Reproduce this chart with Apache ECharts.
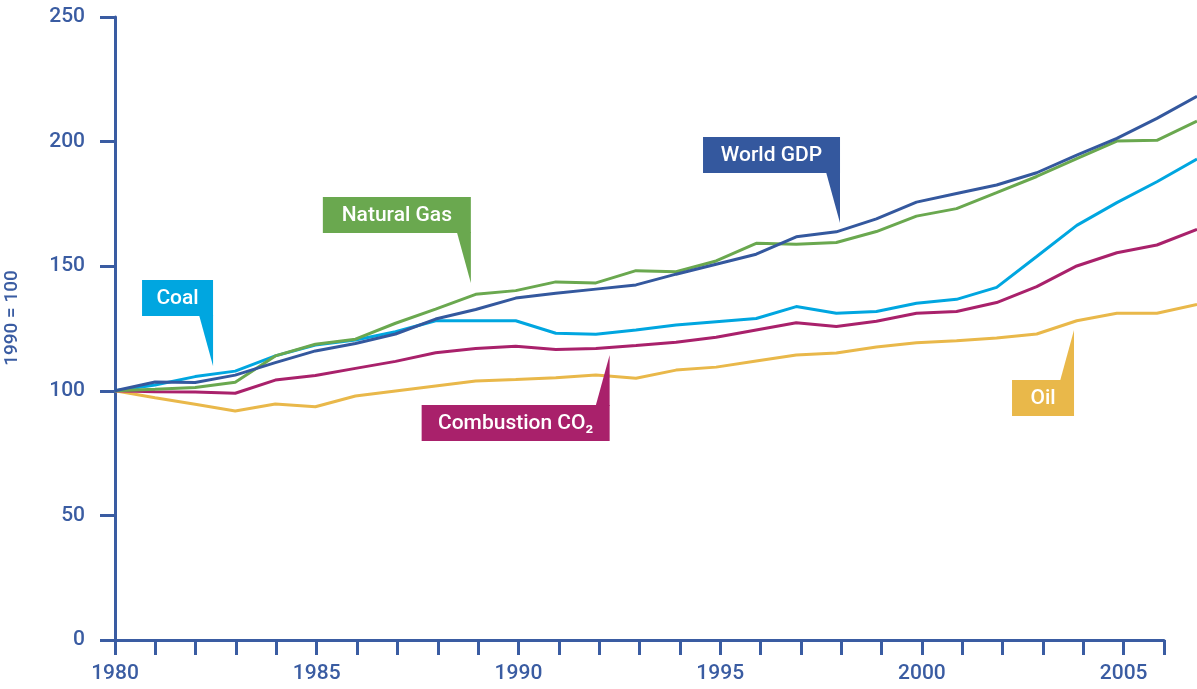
<!DOCTYPE html>
<html><head><meta charset="utf-8">
<script src="https://cdn.jsdelivr.net/npm/echarts@6/dist/echarts.min.js"></script>
<style>html,body{margin:0;padding:0;background:#fff}#c{width:1197px;height:689px}</style>
</head><body><div id="c"></div>
<script>
// ---- data ----
const years = [1980,1981,1982,1983,1984,1985,1986,1987,1988,1989,1990,1991,1992,1993,1994,1995,1996,1997,1998,1999,2000,2001,2002,2003,2004,2005,2006,2007];
const worldGDP   = [100,103.5,103.3,106.3,111.3,116,119,122.8,128.8,132.6,137.2,139.1,140.8,142.5,146.8,150.8,154.8,161.8,163.8,169,175.7,179.2,182.6,187.5,194.6,201.3,209.3,218.2];
const naturalGas = [100,100.6,101.3,103.4,114,118.7,120.7,127.1,132.8,138.7,140.2,143.7,143.3,148.2,147.8,152.1,159.2,158.8,159.5,163.9,170.1,173.1,179.5,186,193.2,200.2,200.5,208.2];
const coal       = [100,102.3,105.7,107.9,114,118.4,120.4,123.7,128.1,128.1,128.1,123.1,122.7,124.4,126.4,127.7,129,133.8,131.1,131.8,135.1,136.7,141.5,153.9,166.4,175.5,183.9,193];
const co2        = [100,99.6,99.5,99,104.3,106.1,109,111.8,115.3,117,117.9,116.6,117,118.2,119.5,121.5,124.4,127.3,125.8,127.9,131.1,131.8,135.4,141.8,150.1,155.4,158.5,164.8];
const oil        = [100,97.2,94.6,91.9,94.7,93.6,97.9,99.9,101.9,103.9,104.5,105.2,106.3,105,108.3,109.5,112,114.4,115.2,117.6,119.3,120.1,121.2,122.8,128.1,131.1,131.1,134.6];
const yTicks = [0,50,100,150,200,250];
const xLabelYears = [1980,1985,1990,1995,2000,2005];
const yAxisTitle = '1990 = 100';

// ---- annotations (callouts point at a data coordinate) ----
const calloutText  = ['Coal','Natural Gas','World GDP','Combustion CO₂','Oil'];
const calloutTip   = [[1982.43,110],[1988.82,143.3],[1997.97,167.3],[1992.26,114.4],[2003.77,124.4]];
const calloutWidth = [71,148,137,188,62];
const calloutDir   = ['down','down','down','up','up'];

const C = {gdp:'#34589e', gas:'#6aa84f', coal:'#00a6e0', co2:'#a9216b', oil:'#e9b84a', axis:'#3a5ca2'};
const calloutColor = [C.coal, C.gas, C.gdp, C.co2, C.oil];
const FONT = 'Roboto, "Open Sans", sans-serif';

// layout: visible axis spans 1980..2006, data continue to 2007 past the frame edge
const W = 1197, LEFT = 115, RIGHT = 33, TOP = 17, BOTTOM = 49;
const axisMax = 2006, dataMax = years[years.length-1], xMin = years[0];
const pxPerYear = (W - LEFT - RIGHT) / (axisMax - xMin);
const dataRight = W - LEFT - pxPerYear * (dataMax - xMin);

const pairs = arr => years.map((y,i)=>[y,arr[i]]);
const mk = (name, arr, color) => ({
  name, type:'line', xAxisIndex:1, yAxisIndex:1, data:pairs(arr), symbol:'none', clip:false, silent:true,
  lineStyle:{color, width:3}, itemStyle:{color}
});

const chart = echarts.init(document.getElementById('c'), null, {renderer:'canvas'});
chart.setOption({
  animation:false,
  backgroundColor:'#fff',
  grid:[
    {left:LEFT, right:RIGHT, top:TOP, bottom:BOTTOM},
    {left:LEFT, right:dataRight, top:TOP, bottom:BOTTOM}
  ],
  xAxis:[{
    gridIndex:0, type:'value', min:xMin, max:axisMax, interval:1,
    axisLine:{show:true, lineStyle:{color:C.axis, width:3}},
    axisTick:{show:true, inside:false, length:15, lineStyle:{color:C.axis, width:3}},
    axisLabel:{show:true, margin:23, color:C.axis, fontFamily:FONT, fontWeight:500, fontSize:21,
      formatter:v => xLabelYears.includes(v) ? String(v) : ''},
    splitLine:{show:false}
  },{
    gridIndex:1, type:'value', min:xMin, max:dataMax, show:false
  }],
  yAxis:[{
    gridIndex:0, type:'value', min:yTicks[0], max:yTicks[yTicks.length-1], interval:50,
    axisLine:{show:true, lineStyle:{color:C.axis, width:3}},
    axisTick:{show:true, inside:false, length:15, lineStyle:{color:C.axis, width:3}},
    axisLabel:{show:true, margin:30, color:C.axis, fontFamily:FONT, fontWeight:500, fontSize:21},
    splitLine:{show:false}
  },{
    gridIndex:1, type:'value', min:yTicks[0], max:yTicks[yTicks.length-1], show:false
  }],
  series:[
    mk('Oil', oil, C.oil),
    mk('Combustion CO2', co2, C.co2),
    mk('Coal', coal, C.coal),
    mk('Natural Gas', naturalGas, C.gas),
    mk('World GDP', worldGDP, C.gdp)
  ]
});

const H = 36, GAP = 50, BASE = 14;
const graphics = [];
calloutText.forEach((t,i)=>{
  const p = chart.convertToPixel({gridIndex:0}, calloutTip[i]);
  const tx = p[0], ty = p[1], w = calloutWidth[i];
  const left = tx - w;
  let top, pts;
  if (calloutDir[i]==='down') {
    top = ty - GAP - H;
    pts = [[tx-BASE, top+H-1],[tx, top+H-1],[tx, ty]];
  } else {
    top = ty + GAP;
    pts = [[tx-BASE, top+1],[tx, top+1],[tx, ty]];
  }
  graphics.push({type:'rect', shape:{x:left, y:top, width:w, height:H}, style:{fill:calloutColor[i]}, z:100});
  graphics.push({type:'polygon', shape:{points:pts}, style:{fill:calloutColor[i]}, z:100});
  graphics.push({type:'text', x:left + w/2, y:top + H/2 + 1, z:101,
    style:{text:t, fill:'#fff', font:'500 21px ' + FONT, textAlign:'center', textVerticalAlign:'middle'}});
});
graphics.push({type:'text', x:12, y:318, rotation:Math.PI/2, z:101,
  style:{text:yAxisTitle, fill:C.axis, font:'500 19px ' + FONT, textAlign:'center', textVerticalAlign:'middle'}});
chart.setOption({graphic:graphics});
</script>
</body></html>
